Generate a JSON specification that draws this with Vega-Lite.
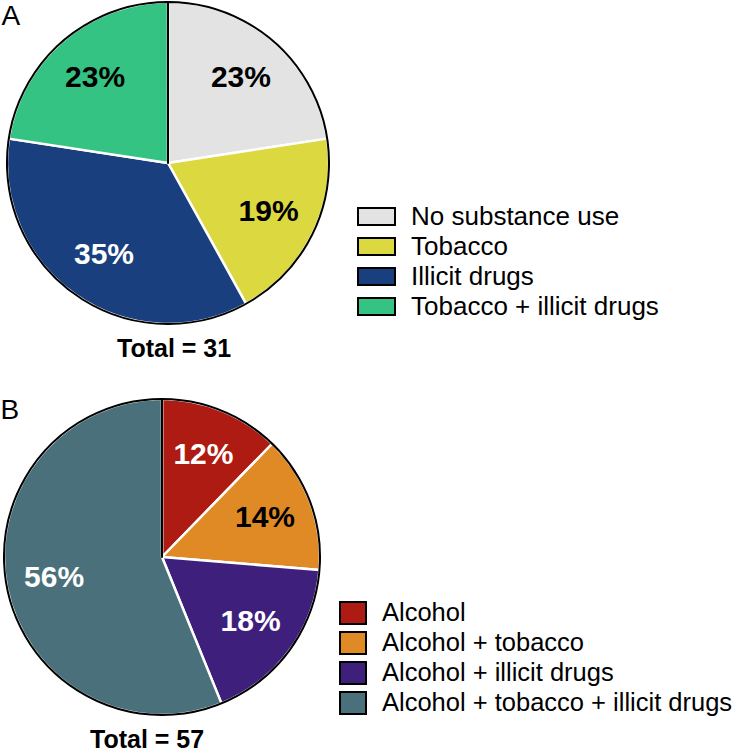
{
  "$schema": "https://vega.github.io/schema/vega-lite/v6.json",
  "padding": 0,
  "background": "white",
  "config": {
    "view": {"stroke": null},
    "font": "Liberation Sans",
    "title": {"font": "Liberation Sans", "color": "black"}
  },
  "spacing": 33,
  "resolve": {"scale": {"color": "independent", "theta": "independent"}, "legend": {"color": "independent"}},
  "vconcat": [
    {
      "title": {"text": "Total = 31", "orient": "bottom", "anchor": "start", "frame": "bounds", "fontSize": 25, "fontWeight": "bold", "offset": 12, "dx": 117},
      "vconcat": [
        {
          "width": 336,
          "height": 324,
          "data": {"values": [
            {"category": "No substance use", "n": 7, "label": "23%", "rank": 1},
            {"category": "Tobacco", "n": 6, "label": "19%", "rank": 2},
            {"category": "Illicit drugs", "n": 11, "label": "35%", "rank": 3},
            {"category": "Tobacco + illicit drugs", "n": 7, "label": "23%", "rank": 4}
          ]},
          "layer": [
            {
              "mark": {"type": "arc", "radius": 161, "stroke": "white", "strokeWidth": 2.5, "strokeJoin": "round"},
              "encoding": {
                "theta": {"field": "n", "type": "quantitative", "stack": true},
                "order": {"field": "rank", "type": "quantitative"},
                "color": {
                  "field": "category", "type": "nominal",
                  "sort": ["No substance use", "Tobacco", "Illicit drugs", "Tobacco + illicit drugs"],
                  "scale": {"domain": ["No substance use", "Tobacco", "Illicit drugs", "Tobacco + illicit drugs"], "range": ["#e3e3e3", "#dcd83f", "#193f7e", "#35c384"]},
                  "legend": {
                    "orient": "none", "legendX": 357, "legendY": 203, "title": null,
                    "symbolType": "M-1,-0.46H1V0.46H-1Z", "symbolSize": 1369, "symbolStrokeWidth": 2, "symbolStrokeColor": "black",
                    "labelFontSize": 26, "labelFont": "Liberation Sans", "labelColor": "black", "labelOffset": 15, "labelLimit": 500,
                    "rowPadding": 3, "clipHeight": 25, "padding": 0,
                    "encode": {"symbols": {"update": {"stroke": {"value": "black"}, "strokeWidth": {"value": 2}, "opacity": {"value": 1}}}}
                  }
                }
              }
            },
            {
              "transform": [{"aggregate": [{"op": "count", "as": "c"}]}],
              "mark": {"type": "arc", "radius": 161, "theta": 0, "theta2": 6.2831, "filled": false, "stroke": "black", "strokeWidth": 2, "strokeJoin": "round"},
              "encoding": {}
            },
            {
              "mark": {"type": "text", "radius": 112, "fontSize": 30, "fontWeight": "bold", "font": "Liberation Sans"},
              "encoding": {
                "theta": {"field": "n", "type": "quantitative", "stack": true},
                "order": {"field": "rank", "type": "quantitative"},
                "text": {"field": "label", "type": "nominal"},
                "color": {"condition": {"test": "datum.category === 'Illicit drugs'", "value": "white"}, "value": "black"}
              }
            },
            {
              "transform": [{"aggregate": [{"op": "count", "as": "c"}]}],
              "mark": {"type": "point", "opacity": 0, "size": 0, "strokeWidth": 0},
              "encoding": {
                "y": {"datum": 0.5, "type": "quantitative", "scale": {"domain": [0, 1]}, "axis": {
                  "title": "A", "titleAngle": 0, "titleX": 1, "titleY": 23, "titleAlign": "left", "titleBaseline": "alphabetic",
                  "titleFontSize": 28, "titleFontWeight": "normal", "titleFont": "Liberation Sans", "titleColor": "black",
                  "domain": false, "ticks": false, "labels": false, "grid": false, "minExtent": 0, "maxExtent": 0
                }}
              }
            }
          ]
        }
      ]
    },
    {
      "title": {"text": "Total = 57", "orient": "bottom", "anchor": "start", "frame": "bounds", "fontSize": 25, "fontWeight": "bold", "offset": 11, "dx": 90},
      "vconcat": [
        {
          "width": 324,
          "height": 316,
          "data": {"values": [
            {"category": "Alcohol", "n": 7, "label": "12%", "rank": 1},
            {"category": "Alcohol + tobacco", "n": 8, "label": "14%", "rank": 2},
            {"category": "Alcohol + illicit drugs", "n": 10, "label": "18%", "rank": 3},
            {"category": "Alcohol + tobacco + illicit drugs", "n": 32, "label": "56%", "rank": 4}
          ]},
          "layer": [
            {
              "mark": {"type": "arc", "radius": 158, "stroke": "white", "strokeWidth": 2.5, "strokeJoin": "round"},
              "encoding": {
                "theta": {"field": "n", "type": "quantitative", "stack": true},
                "order": {"field": "rank", "type": "quantitative"},
                "color": {
                  "field": "category", "type": "nominal",
                  "sort": ["Alcohol", "Alcohol + tobacco", "Alcohol + illicit drugs", "Alcohol + tobacco + illicit drugs"],
                  "scale": {"domain": ["Alcohol", "Alcohol + tobacco", "Alcohol + illicit drugs", "Alcohol + tobacco + illicit drugs"], "range": ["#ae1b12", "#df8a25", "#3e1f7c", "#4a717b"]},
                  "legend": {
                    "orient": "none", "legendX": 339, "legendY": 201.5, "title": null,
                    "symbolType": "M-1,-0.846H1V0.846H-1Z", "symbolSize": 676, "symbolStrokeWidth": 2, "symbolStrokeColor": "black",
                    "labelFontSize": 25.5, "labelFont": "Liberation Sans", "labelColor": "black", "labelOffset": 15, "labelLimit": 500,
                    "rowPadding": 4, "clipHeight": 25, "padding": 0,
                    "encode": {"symbols": {"update": {"stroke": {"value": "black"}, "strokeWidth": {"value": 2}, "opacity": {"value": 1}}}}
                  }
                }
              }
            },
            {
              "transform": [{"aggregate": [{"op": "count", "as": "c"}]}],
              "mark": {"type": "arc", "radius": 158, "theta": 0, "theta2": 6.2831, "filled": false, "stroke": "black", "strokeWidth": 2, "strokeJoin": "round"},
              "encoding": {}
            },
            {
              "mark": {"type": "text", "radius": 110, "fontSize": 30, "fontWeight": "bold", "font": "Liberation Sans"},
              "encoding": {
                "theta": {"field": "n", "type": "quantitative", "stack": true},
                "order": {"field": "rank", "type": "quantitative"},
                "text": {"field": "label", "type": "nominal"},
                "color": {"condition": {"test": "datum.category !== 'Alcohol + tobacco'", "value": "white"}, "value": "black"}
              }
            },
            {
              "transform": [{"aggregate": [{"op": "count", "as": "c"}]}],
              "mark": {"type": "point", "opacity": 0, "size": 0, "strokeWidth": 0},
              "encoding": {
                "y": {"datum": 0.5, "type": "quantitative", "scale": {"domain": [0, 1]}, "axis": {
                  "title": "B", "titleAngle": 0, "titleX": 0, "titleY": 19, "titleAlign": "left", "titleBaseline": "alphabetic",
                  "titleFontSize": 28, "titleFontWeight": "normal", "titleFont": "Liberation Sans", "titleColor": "black",
                  "domain": false, "ticks": false, "labels": false, "grid": false, "minExtent": 0, "maxExtent": 0
                }}
              }
            }
          ]
        }
      ]
    }
  ]
}
